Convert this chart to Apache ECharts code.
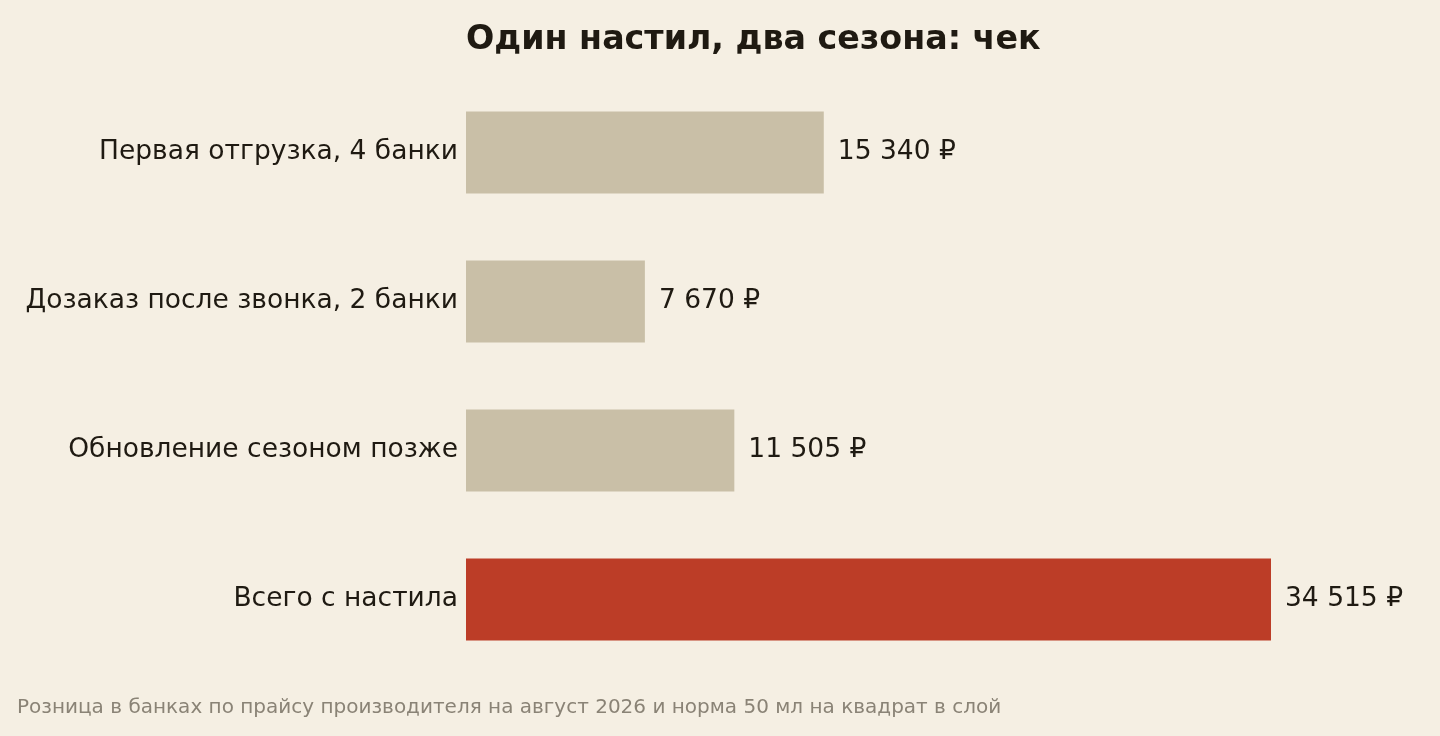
<!DOCTYPE html>
<html>
<head>
<meta charset="utf-8">
<script src="https://cdn.jsdelivr.net/npm/echarts@6/dist/echarts.min.js"></script>
<style>
  html, body { margin: 0; padding: 0; background: #f5efe3; }
  #chart { width: 1440px; height: 736px; }
</style>
</head>
<body>
<div id="chart"></div>
<script>
const categories = ['Первая отгрузка, 4 банки', 'Дозаказ после звонка, 2 банки', 'Обновление сезоном позже', 'Всего с настила']
const values = [15340, 7670, 11505, 34515]
const colors = ['#c9bfa7', '#c9bfa7', '#c9bfa7', '#bc3d27']

const fmt = v => String(v).replace(/\B(?=(\d{3})+(?!\d))/g, ' ') + ' ₽'

const chart = echarts.init(document.getElementById('chart'))
chart.setOption({
    backgroundColor: '#f5efe3',
    textStyle: { fontFamily: 'DejaVu Sans' },
    title: {
        text: 'Один настил, два сезона: чек',
        left: 461,
        top: 19,
        textStyle: { fontFamily: 'DejaVu Sans', fontWeight: 'bold', fontSize: 33.3, color: '#1f1a12' }
    },
    graphic: [{
        type: 'text',
        left: 17,
        top: 698,
        style: {
            text: 'Розница в банках по прайсу производителя на август 2026 и норма 50 мл на квадрат в слой',
            fontFamily: 'DejaVu Sans',
            fontSize: 20,
            fill: '#8a8376'
        }
    }],
    grid: { left: 466, right: 169, top: 78, bottom: 62 },
    xAxis: {
        type: 'value',
        min: 0,
        max: 34515,
        show: false
    },
    yAxis: {
        type: 'category',
        data: categories,
        inverse: true,
        axisLine: { show: false },
        axisTick: { show: false },
        axisLabel: { fontSize: 26.5, color: '#1f1a12', margin: 8, fontFamily: 'DejaVu Sans', padding: [7, 0, 0, 0] }
    },
    series: [{
        type: 'bar',
        data: values.map((v, i) => ({ value: v, itemStyle: { color: colors[i] } })),
        barCategoryGap: '45%',
        label: {
            show: true,
            position: 'right',
            distance: 14,
            fontSize: 26.5,
            color: '#1f1a12',
            padding: [2, 0, 0, 0],
            formatter: p => fmt(p.value)
        }
    }]
})
</script>
</body>
</html>
